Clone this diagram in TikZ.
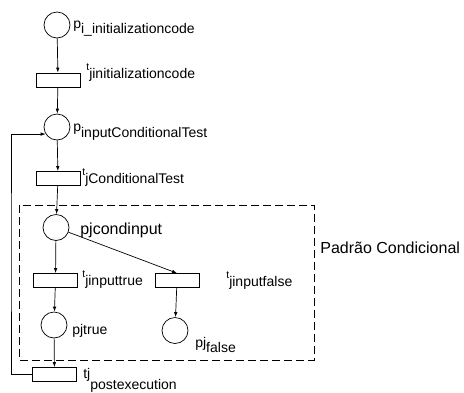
\documentclass[tikz,border=0pt]{standalone}
\usepackage{fontspec}
\setmainfont{Liberation Sans}
\usetikzlibrary{arrows.meta}

% label with lowered subscript text, and label with small raised t
\newcommand{\lowsub}[3][5pt]{#2\raisebox{-#1}{#3}}
\newcommand{\smallt}[1]{\raisebox{7.5pt}{\fontsize{10.5}{11}\selectfont t}#1}

\begin{document}
\begin{tikzpicture}[x=1pt,y=-1pt,line width=0.7pt,
  place/.style={circle,draw,minimum size=26pt,inner sep=0pt},
  trans/.style={draw,minimum width=44pt,minimum height=14pt,inner sep=0pt},
  flow/.style={-{Latex[length=5pt,width=3.5pt]}},
  lbl/.style={anchor=base west,inner sep=0pt,font=\fontsize{14}{16}\selectfont},
  biglbl/.style={lbl,font=\fontsize{16}{18}\selectfont}]
\useasboundingbox (0,0) rectangle (464,392);

% places and transitions
\node [place] (pinit)  at (57,25)      {};
\node [trans] (tinit)  at (58,80)      {};
\node [place] (pin)    at (57,127)     {};
\node [trans] (tcond)  at (58,178.5)   {};
\node [place] (pcond)  at (56,227.5)   {};
\node [trans] (ttrue)  at (55.5,280.5) {};
\node [trans] (tfalse) at (177,280.5)  {};
\node [place] (ptrue)  at (54,325)     {};
\node [place] (pfalse) at (175,330.5)  {};
\node [trans] (tpost)  at (54.5,374.5) {};

%%%%%%%%%%%%%%%%%%%%%%%%%%%%%%%%%%%%%%%%

\draw [flow] (pinit)  -- (tinit);
\draw [flow] (tinit)  -- (pin);
\draw [flow] (pin)    -- (tcond);
\draw [flow] (tcond)  -- (pcond);
\draw [flow] (pcond)  -- (ttrue);
\draw [flow] (pcond)  -- (tfalse.north);
\draw [flow] (ttrue)  -- (ptrue);
\draw [flow] (tfalse) -- (pfalse);
\draw [flow] (ptrue)  -- (tpost);
\coordinate (back) at (11,250);
\draw [flow] (tpost.west) -| (back) |- (pin.212);

% conditional pattern
\draw [dash pattern=on 8pt off 4pt] (19,205) rectangle (314,360);
\node [biglbl] (pattern) at (320,253) {Padrão Condicional};

% labels
\node [lbl] (pinitlbl)  at (73,28)  {\lowsub{p}{i\_initializationcode}};
\node [lbl] (tinitlbl)  at (86,78)  {\smallt{jinitializationcode}};
\node [lbl] (pinlbl)    at (73,131) {\lowsub[6pt]{p}{inputConditionalTest}};
\node [lbl] (tcondlbl)  at (82,183) {\smallt{jConditionalTest}};
\node [biglbl] (pcondlbl) at (80,234) {pjcondinput};
\node [lbl] (ttruelbl)  at (82,285) {\smallt{jinputtrue}};
\node [lbl] (tfalselbl) at (226,286) {\smallt{jinputfalse}};
\node [lbl] (ptruelbl)  at (72,334) {pjtrue};
\node [lbl] (pfalselbl) at (195,347) {\lowsub{pj}{false}};
\node [lbl] (tpostlbl)  at (83,378) {\lowsub[11pt]{tj}{postexecution}};
\end{tikzpicture}
\end{document}
